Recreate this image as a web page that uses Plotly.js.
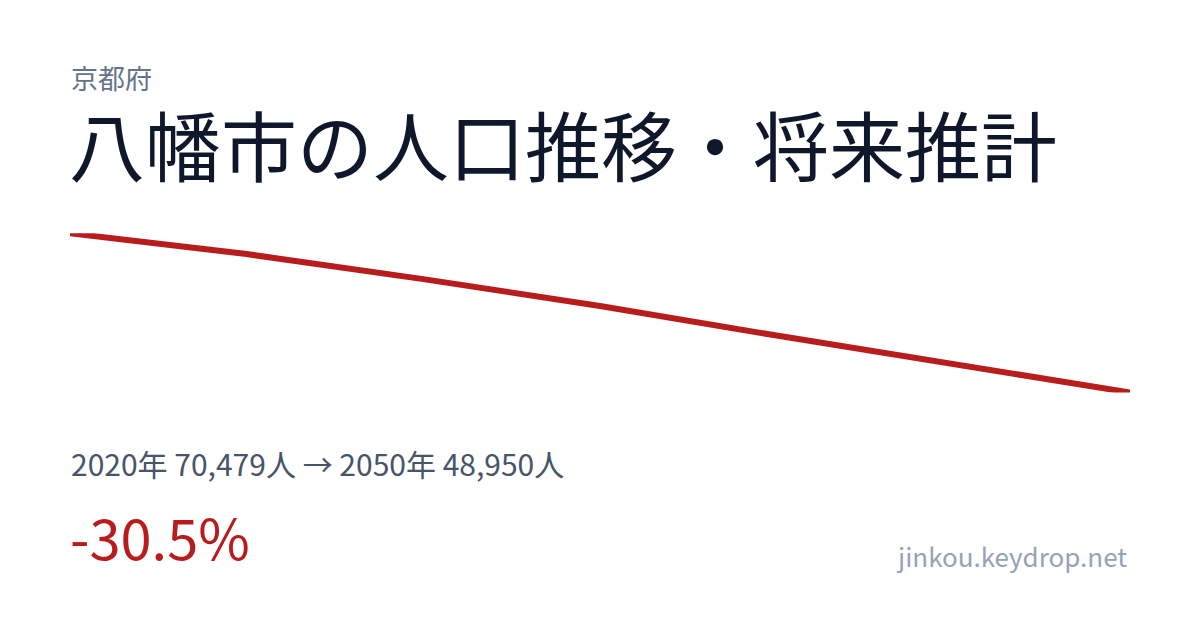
<!DOCTYPE html>
<html>
<head>
<meta charset="utf-8">
<script src="https://cdn.plot.ly/plotly-3.0.1.min.js"></script>
<style>html,body{margin:0;padding:0;background:#fff;}#chart{width:1200px;height:630px;}</style>
</head>
<body>
<div id="chart"></div>
<script>
const years = [2020, 2025, 2030, 2035, 2040, 2045, 2050];
const population = [70479, 67670, 64280, 60660, 56650, 52720, 48950];
const prefecture = "京都府";
const titleText = "八幡市の人口推移・将来推計";
const summaryText = "2020年 70,479人 → 2050年 48,950人";
const changeText = "-30.5%";
const siteText = "jinkou.keydrop.net";

const W = 1200, H = 630;
const py = px => 1 - px / H;
const font = '"Noto Sans CJK JP", "Noto Sans", sans-serif';

const trace = {
  x: years, y: population, type: 'scatter', mode: 'lines',
  line: {color: '#b91c1c', width: 6},
  cliponaxis: false, hoverinfo: 'skip'
};

const layout = {
  width: W, height: H,
  margin: {l: 0, r: 0, t: 0, b: 0},
  paper_bgcolor: '#ffffff', plot_bgcolor: '#ffffff',
  showlegend: false,
  xaxis: {domain: [70 / W, 1130 / W], range: [2020, 2050], visible: false, fixedrange: true},
  yaxis: {domain: [py(392.5), py(233.3)], range: [48950, 70479], visible: false, fixedrange: true},
  annotations: [
    {text: prefecture, xref: 'paper', yref: 'paper', x: 69 / W, y: py(77), xanchor: 'left', yanchor: 'middle',
     showarrow: false, font: {family: font, size: 27, color: '#64748b'}},
    {text: titleText, xref: 'paper', yref: 'paper', x: 67 / W, y: py(143), xanchor: 'left', yanchor: 'middle',
     showarrow: false, font: {family: font, size: 76, color: '#0f172a'}},
    {text: summaryText, xref: 'paper', yref: 'paper', x: 69 / W, y: py(463), xanchor: 'left', yanchor: 'middle',
     showarrow: false, font: {family: font, size: 30, color: '#475569'}},
    {text: changeText, xref: 'paper', yref: 'paper', x: 68 / W, y: py(535), xanchor: 'left', yanchor: 'middle',
     showarrow: false, font: {family: font, size: 56, color: '#b91c1c'}},
    {text: siteText, xref: 'paper', yref: 'paper', x: 1129 / W, y: py(555), xanchor: 'right', yanchor: 'middle',
     showarrow: false, font: {family: font, size: 26, color: '#94a3b8'}}
  ]
};

Plotly.newPlot('chart', [trace], layout, {staticPlot: true, displayModeBar: false});
</script>
</body>
</html>
